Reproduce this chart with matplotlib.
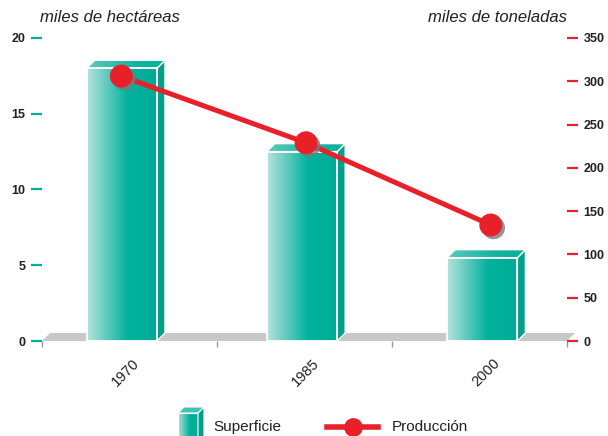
#importing needed libraries
import numpy as np
import matplotlib
matplotlib.use("Agg")
import matplotlib.pyplot as plt
from matplotlib.patches import Polygon
from matplotlib.colors import LinearSegmentedColormap
import matplotlib.patheffects as pe

#data
years = ["1970", "1985", "2000"]
superficie = [18.0, 12.5, 5.5]    # miles de hectáreas
produccion = [306, 229, 134]      # miles de toneladas
left_ticks = [0, 5, 10, 15, 20]
right_ticks = [0, 50, 100, 150, 200, 250, 300, 350]

#colours
teal = "#00ae9a"
teal_side = "#00a08b"
red = "#e8202a"
floor_grey = "#c8c8c8"
txt = "#231f20"

plt.rcParams["font.family"] = ["Liberation Sans", "DejaVu Sans"]

front_cmap = LinearSegmentedColormap.from_list(
    "front", [(0, "#b6e2dc"), (0.58, "#00b29d"), (1, "#00ab96")])
top_cmap = LinearSegmentedColormap.from_list(
    "top", [(0, "#5fcabb"), (0.6, "#10b5a1"), (1, "#08b09c")])
grad = np.linspace(0, 1, 256).reshape(1, -1)

W, H = 608, 436
fig = plt.figure(figsize=(W / 100, H / 100), dpi=100)
ax = fig.add_axes([42 / W, 1 - 341 / H, 525 / W, 303 / H])
ax2 = ax.twinx()

x = np.arange(len(years))
xlim = (-0.465, 2.448)
ylim = (0, 20)
ax.set_xlim(*xlim)
ax.set_ylim(*ylim)
ax2.set_ylim(0, 350)

#3d depth of 8 px converted to data units
dx = 8 * (xlim[1] - xlim[0]) / 525
dy = 8 * (ylim[1] - ylim[0]) / 303
bw = 0.39

#floor
floor = Polygon([(xlim[0], 0), (xlim[0] + dx, dy), (xlim[1] + dx, dy), (xlim[1], 0)],
                closed=True, facecolor=floor_grey, edgecolor="none", zorder=1, clip_on=False)
ax.add_patch(floor)

#bars with gradient front, side and top faces
bars = ax.bar(x - dx / 2, superficie, width=bw, color="none", edgecolor="white",
              linewidth=1.3, zorder=4)
for b in bars:
    x0, x1, h = b.get_x(), b.get_x() + b.get_width(), b.get_height()
    im = ax.imshow(grad, cmap=front_cmap, extent=(x0, x1, 0, h), aspect="auto",
                   zorder=3, interpolation="bicubic")
    im.set_clip_path(b)
    side = Polygon([(x1, 0), (x1 + dx, dy), (x1 + dx, h + dy), (x1, h)], closed=True,
                   facecolor=teal_side, edgecolor="white", linewidth=1.0, zorder=3)
    ax.add_patch(side)
    top = Polygon([(x0, h), (x0 + dx, h + dy), (x1 + dx, h + dy), (x1, h)], closed=True,
                  facecolor="none", edgecolor="white", linewidth=1.0, zorder=4)
    ax.add_patch(top)
    im2 = ax.imshow(grad, cmap=top_cmap, extent=(x0, x1 + dx, h, h + dy), aspect="auto",
                    zorder=3, interpolation="bicubic")
    im2.set_clip_path(top)
ax.set_xlim(*xlim)
ax.set_ylim(*ylim)

#production line with shadowed markers (slightly spread like the original)
xl = x + (x - 1) * 0.025
ax2.plot(xl, produccion, color=red, lw=3.6, zorder=5, solid_capstyle="round")
ax2.plot(xl, produccion, linestyle="none", marker="o", markersize=16.5, color=red,
         markeredgewidth=0, zorder=6,
         path_effects=[pe.SimplePatchShadow(offset=(2, -2), shadow_rgbFace="#7a7a7a", alpha=0.8),
                       pe.Normal()])

#axes styling
for a in (ax, ax2):
    for s in a.spines.values():
        s.set_visible(False)
ax.set_yticks(left_ticks)
ax.set_yticklabels([str(v) for v in left_ticks], fontweight="bold")
ax.tick_params(axis="y", length=8, width=1.6, color=teal, pad=4, labelsize=9,
               labelcolor=txt)
ax2.set_yticks(right_ticks)
ax2.set_yticklabels([str(v) for v in right_ticks], fontweight="bold")
ax2.tick_params(axis="y", length=8, width=1.6, color=red, pad=4, labelsize=9,
                labelcolor=txt)

ax.set_xticks(x)
ax.set_xticklabels(years, rotation=45, ha="center", va="top")
ax.tick_params(axis="x", length=0, pad=11, labelsize=10.5, labelcolor=txt)
ax.set_xticks(np.linspace(xlim[0], xlim[1], 4), minor=True)
ax.tick_params(axis="x", which="minor", length=4, width=1, color="#999999")

#axis titles
fig.text(40 / W, 1 - 18 / H, "miles de hectáreas", style="italic", fontsize=12,
         color=txt, va="center", ha="left")
fig.text(567 / W, 1 - 18 / H, "miles de toneladas", style="italic", fontsize=12,
         color=txt, va="center", ha="right")

#legend drawn by hand at the bottom, pixel coordinates
lax = fig.add_axes([0, 0, 1, 40 / H])
lax.set_xlim(0, W)
lax.set_ylim(H, H - 40)
lax.axis("off")
cube_front = Polygon([(178, 413), (198, 413), (198, 440), (178, 440)], closed=True,
                     facecolor="none", edgecolor="white", lw=0.8, clip_on=False)
lax.add_patch(cube_front)
imc = lax.imshow(grad, cmap=front_cmap, extent=(178, 198, 440, 413), aspect="auto",
                 interpolation="bicubic")
imc.set_clip_path(cube_front)
lax.add_patch(Polygon([(198, 413), (204, 407), (204, 440), (198, 440)], closed=True,
                      facecolor=teal_side, edgecolor="white", lw=0.8))
lax.add_patch(Polygon([(178, 413), (184, 407), (204, 407), (198, 413)], closed=True,
                      facecolor="#3fc4b2", edgecolor="white", lw=0.8))
lax.set_xlim(0, W)
lax.set_ylim(H, H - 40)
lax.text(213, 427, "Superficie", va="center", ha="left", fontsize=11, color=txt)
lax.plot([327, 378], [427, 427], color=red, lw=4)
lax.plot([353], [427], marker="o", markersize=13.5, color=red, markeredgewidth=0)
lax.text(392, 427, "Producción", va="center", ha="left", fontsize=11, color=txt)

fig.savefig("out.png", dpi=100)
